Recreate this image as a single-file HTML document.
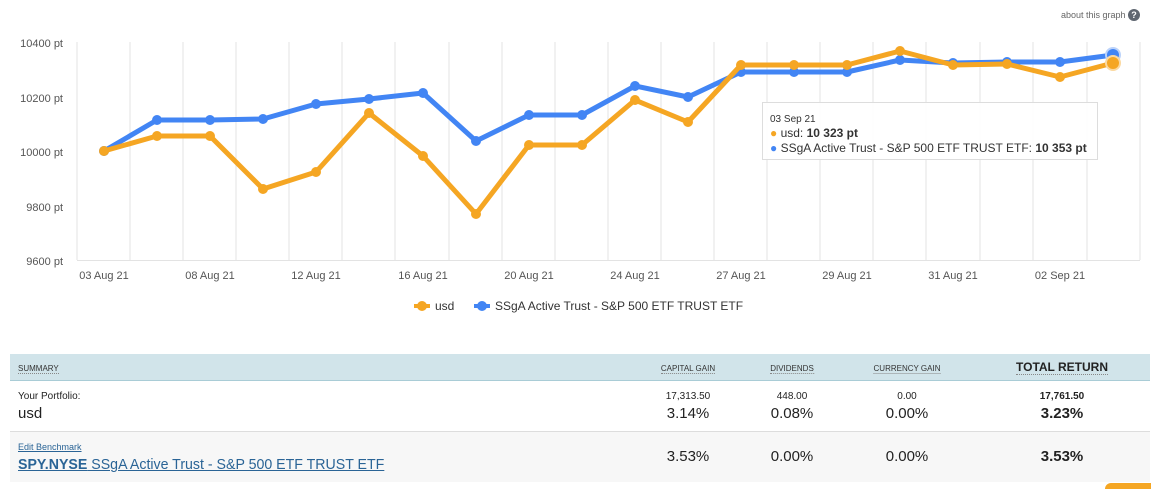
<!DOCTYPE html>
<html style="height:489px;overflow:hidden"><head><style>
body{margin:0;width:1151px;height:489px;background:#fff;font-family:"Liberation Sans",sans-serif;position:relative;overflow:hidden}
.a{position:absolute;white-space:nowrap}
.c{transform:translateX(-50%);text-align:center}
.h{font-size:8px;color:#333;border-bottom:1px dotted #888;text-transform:uppercase}
</style></head><body>
<div class="a" style="left:1061px;top:10px;font-size:9px;color:#666">about this graph</div>
<div class="a" style="left:1128px;top:9px;width:12px;height:12px;border-radius:6px;background:#5f6670;color:#fff;font-size:9px;text-align:center;line-height:12px;font-weight:bold">?</div>
<svg class="a" style="left:0;top:0" width="1151" height="340">
<g stroke="#e3e3e3" stroke-width="1">
<line x1="77" y1="42" x2="77" y2="260"/><line x1="130" y1="42" x2="130" y2="260"/><line x1="183" y1="42" x2="183" y2="260"/><line x1="236" y1="42" x2="236" y2="260"/><line x1="289" y1="42" x2="289" y2="260"/><line x1="342" y1="42" x2="342" y2="260"/><line x1="395" y1="42" x2="395" y2="260"/><line x1="449" y1="42" x2="449" y2="260"/><line x1="502" y1="42" x2="502" y2="260"/><line x1="555" y1="42" x2="555" y2="260"/><line x1="608" y1="42" x2="608" y2="260"/><line x1="661" y1="42" x2="661" y2="260"/><line x1="714" y1="42" x2="714" y2="260"/><line x1="767" y1="42" x2="767" y2="260"/><line x1="820" y1="42" x2="820" y2="260"/><line x1="873" y1="42" x2="873" y2="260"/><line x1="926" y1="42" x2="926" y2="260"/><line x1="980" y1="42" x2="980" y2="260"/><line x1="1033" y1="42" x2="1033" y2="260"/><line x1="1087" y1="42" x2="1087" y2="260"/><line x1="1140" y1="42" x2="1140" y2="260"/>
<line x1="77" y1="260.5" x2="1140" y2="260.5"/>
</g>
<g font-size="11" fill="#555" text-anchor="end">
<text x="63" y="47">10400 pt</text><text x="63" y="102">10200 pt</text><text x="63" y="156">10000 pt</text><text x="63" y="211">9800 pt</text><text x="63" y="265">9600 pt</text>
</g>
<g font-size="11" fill="#555" text-anchor="middle">
<text x="104" y="279">03 Aug 21</text><text x="210" y="279">08 Aug 21</text><text x="316" y="279">12 Aug 21</text><text x="423" y="279">16 Aug 21</text><text x="529" y="279">20 Aug 21</text><text x="635" y="279">24 Aug 21</text><text x="741" y="279">27 Aug 21</text><text x="847" y="279">29 Aug 21</text><text x="953" y="279">31 Aug 21</text><text x="1060" y="279">02 Sep 21</text>
</g>
<polyline fill="none" stroke="#4285f4" stroke-width="5" stroke-linejoin="round" points="104,151 157,120 210,120 263,119 316,104 369,99 423,93 476,141 529,115 582,115 635,86 688,97 741,72 794,72 847,72 900,60 953,63 1007,62 1060,62 1113,55"/>
<g fill="#4285f4"><circle cx="104" cy="151" r="5"/><circle cx="157" cy="120" r="5"/><circle cx="210" cy="120" r="5"/><circle cx="263" cy="119" r="5"/><circle cx="316" cy="104" r="5"/><circle cx="369" cy="99" r="5"/><circle cx="423" cy="93" r="5"/><circle cx="476" cy="141" r="5"/><circle cx="529" cy="115" r="5"/><circle cx="582" cy="115" r="5"/><circle cx="635" cy="86" r="5"/><circle cx="688" cy="97" r="5"/><circle cx="741" cy="72" r="5"/><circle cx="794" cy="72" r="5"/><circle cx="847" cy="72" r="5"/><circle cx="900" cy="60" r="5"/><circle cx="953" cy="63" r="5"/><circle cx="1007" cy="62" r="5"/><circle cx="1060" cy="62" r="5"/><circle cx="1113" cy="55" r="7" stroke="#bcd3fa" stroke-width="2"/></g>
<polyline fill="none" stroke="#f5a623" stroke-width="5" stroke-linejoin="round" points="104,151 157,136 210,136 263,189 316,172 369,113 423,156 476,214 529,145 582,145 635,100 688,122 741,65 794,65 847,65 900,51 953,65 1007,64 1060,77 1113,63"/>
<g fill="#f5a623"><circle cx="104" cy="151" r="5"/><circle cx="157" cy="136" r="5"/><circle cx="210" cy="136" r="5"/><circle cx="263" cy="189" r="5"/><circle cx="316" cy="172" r="5"/><circle cx="369" cy="113" r="5"/><circle cx="423" cy="156" r="5"/><circle cx="476" cy="214" r="5"/><circle cx="529" cy="145" r="5"/><circle cx="582" cy="145" r="5"/><circle cx="635" cy="100" r="5"/><circle cx="688" cy="122" r="5"/><circle cx="741" cy="65" r="5"/><circle cx="794" cy="65" r="5"/><circle cx="847" cy="65" r="5"/><circle cx="900" cy="51" r="5"/><circle cx="953" cy="65" r="5"/><circle cx="1007" cy="64" r="5"/><circle cx="1060" cy="77" r="5"/><circle cx="1113" cy="63" r="7" stroke="#fbd9a0" stroke-width="2"/></g>
<rect x="762.5" y="102.5" width="335" height="57" fill="#fff" fill-opacity="0.92" stroke="#ddd"/>
<text x="770" y="122" font-size="10" fill="#333">03 Sep 21</text>
<text x="770" y="137" font-size="12" fill="#333"><tspan fill="#f5a623">●</tspan> usd: <tspan font-weight="bold">10 323 pt</tspan></text>
<text x="770" y="152" font-size="12" fill="#333"><tspan fill="#4285f4">●</tspan> SSgA Active Trust - S&amp;P 500 ETF TRUST ETF: <tspan font-weight="bold">10 353 pt</tspan></text>
<line x1="414" y1="306" x2="430" y2="306" stroke="#f5a623" stroke-width="4"/><circle cx="422" cy="306" r="5" fill="#f5a623"/>
<text x="435" y="310" font-size="12" fill="#333">usd</text>
<line x1="474" y1="306" x2="490" y2="306" stroke="#4285f4" stroke-width="4"/><circle cx="482" cy="306" r="5" fill="#4285f4"/>
<text x="495" y="310" font-size="12" fill="#333">SSgA Active Trust - S&amp;P 500 ETF TRUST ETF</text>
</svg>
<div class="a" style="left:10px;top:354px;width:1140px;height:26px;background:#d1e4ea;border-bottom:1px solid #a9ccd6"></div>
<div class="a" style="left:10px;top:431px;width:1140px;height:50px;background:#f7f7f7;border-top:1px solid #ddd"></div>
<div class="a h" style="left:18px;top:364px">Summary</div>
<div class="a h c" style="left:688px;top:364px">Capital gain</div>
<div class="a h c" style="left:792px;top:364px">Dividends</div>
<div class="a h c" style="left:907px;top:364px">Currency gain</div>
<div class="a c" style="left:1062px;top:360px;font-size:12px;color:#222;font-weight:bold;border-bottom:1px dotted #888">TOTAL RETURN</div>
<div class="a" style="left:18px;top:391px;font-size:10px;color:#222">Your Portfolio:</div>
<div class="a" style="left:18px;top:405px;font-size:15px;color:#222">usd</div>
<div class="a c" style="left:688px;top:391px;font-size:10px;color:#222">17,313.50</div>
<div class="a c" style="left:792px;top:391px;font-size:10px;color:#222">448.00</div>
<div class="a c" style="left:907px;top:391px;font-size:10px;color:#222">0.00</div>
<div class="a c" style="left:1062px;top:391px;font-size:10px;color:#222;font-weight:bold">17,761.50</div>
<div class="a c" style="left:688px;top:405px;font-size:15px;color:#222">3.14%</div>
<div class="a c" style="left:792px;top:405px;font-size:15px;color:#222">0.08%</div>
<div class="a c" style="left:907px;top:405px;font-size:15px;color:#222">0.00%</div>
<div class="a c" style="left:1062px;top:405px;font-size:15px;color:#222;font-weight:bold">3.23%</div>
<div class="a" style="left:18px;top:442px;font-size:9px;color:#2a6496;text-decoration:underline">Edit Benchmark</div>
<div class="a" style="left:18px;top:456px;font-size:15px;color:#2a6496;text-decoration:underline;transform:scaleX(0.945);transform-origin:0 0"><b>SPY.NYSE</b> SSgA Active Trust - S&amp;P 500 ETF TRUST ETF</div>
<div class="a c" style="left:688px;top:448px;font-size:15px;color:#222">3.53%</div>
<div class="a c" style="left:792px;top:448px;font-size:15px;color:#222">0.00%</div>
<div class="a c" style="left:907px;top:448px;font-size:15px;color:#222">0.00%</div>
<div class="a c" style="left:1062px;top:448px;font-size:15px;color:#222;font-weight:bold">3.53%</div>
<div class="a" style="left:1105px;top:483px;width:60px;height:6px;border-radius:30px 30px 0 0;background:#f5a623"></div>
</body></html>
